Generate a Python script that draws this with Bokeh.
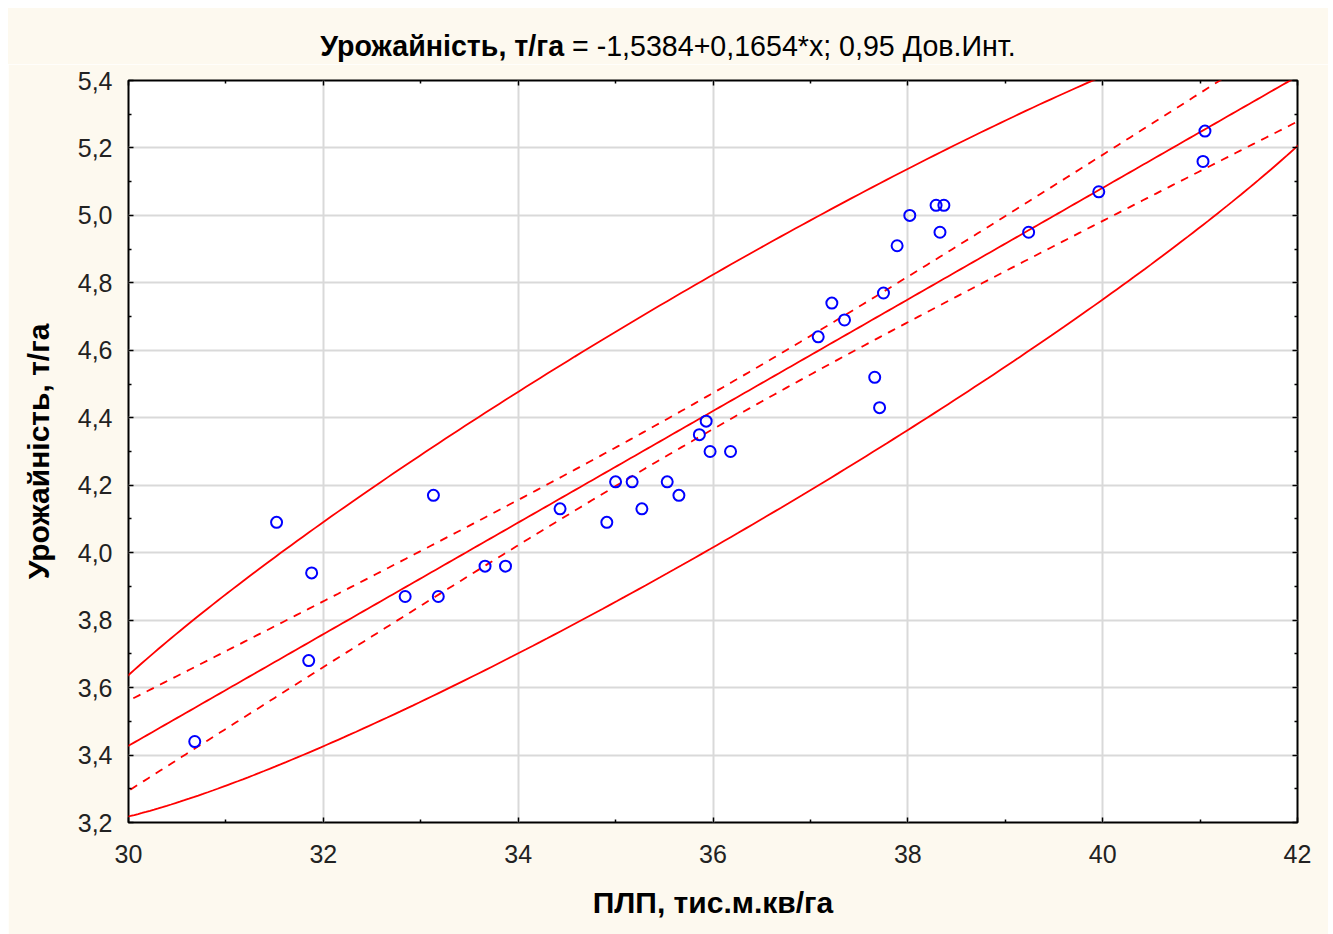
import numpy as np
from bokeh.plotting import figure
from bokeh.models import (LinearAxis, FixedTicker, CustomJSTickFormatter,
                          ColumnDataSource, Range1d, Div)
from bokeh.layouts import column
from bokeh.embed import file_html
from bokeh.resources import INLINE

# ---- data ----
plp = [30.68, 31.52, 31.88, 31.85, 32.84, 33.13, 33.18, 33.66, 33.87, 34.43,
       34.91, 35.00, 35.17, 35.27, 35.53, 35.65, 35.86, 35.93, 35.97, 36.18,
       37.08, 37.22, 37.35, 37.66, 37.71, 37.75, 37.89, 38.02, 38.29, 38.37,
       38.33, 39.24, 39.96, 41.05, 41.03]
yield_t = [3.44, 4.09, 3.94, 3.68, 3.87, 4.17, 3.87, 3.96, 3.96, 4.13,
           4.09, 4.21, 4.21, 4.13, 4.21, 4.17, 4.35, 4.39, 4.30, 4.30,
           4.64, 4.74, 4.69, 4.52, 4.43, 4.77, 4.91, 5.00, 5.03, 5.03,
           4.95, 4.95, 5.07, 5.25, 5.16]

x_ticks = [30, 32, 34, 36, 38, 40, 42]
x_minor = [31, 33, 35, 37, 39, 41]
y_ticks = [3.2, 3.4, 3.6, 3.8, 4.0, 4.2, 4.4, 4.6, 4.8, 5.0, 5.2, 5.4]
y_minor = [3.3, 3.5, 3.7, 3.9, 4.1, 4.3, 4.5, 4.7, 4.9, 5.1, 5.3]

title_bold = "Урожайність, т/га"
title_rest = " = -1,5384+0,1654*x; 0,95 Дов.Инт."
x_label = "ПЛП, тис.м.кв/га"
y_label = "Урожайність, т/га"

conf_level_t = 2.0345      # t(0.975, n-2), n = 35
f_quantile = 3.285         # F(0.95; 2, n-2)

# ---- statistics from the data ----
xa = np.array(plp)
ya = np.array(yield_t)
n = len(xa)
slope, intercept = np.polyfit(xa, ya, 1)
xbar, ybar = xa.mean(), ya.mean()
sxx = ((xa - xbar) ** 2).sum()
resid = ya - (intercept + slope * xa)
s = np.sqrt((resid ** 2).sum() / (n - 2))

xs = np.linspace(29.5, 42.5, 300)
fit = intercept + slope * xs
half = conf_level_t * s * np.sqrt(1.0 / n + (xs - xbar) ** 2 / sxx)

cov = np.cov(np.vstack([xa, ya]))
c = (n + 1) / n * 2 * (n - 1) / (n - 2) * f_quantile
L = np.linalg.cholesky(c * cov)
t = np.linspace(0, 2 * np.pi, 600)
ell = np.array([[xbar], [ybar]]) + L @ np.vstack([np.cos(t), np.sin(t)])

CREAM = "#fdf9ef"
FONT = "Liberation Sans"

title_div = Div(
    text=f"<b>{title_bold}</b>{title_rest}", width=1320, height=56, margin=0,
    styles={"background-color": CREAM, "font-family": FONT, "font-size": "28.6px",
            "color": "black", "text-align": "center", "line-height": "76px",
            "white-space": "nowrap"})

p = figure(width=1320, height=870, x_range=Range1d(30, 42), y_range=Range1d(3.2, 5.4),
           output_backend="svg", toolbar_location=None, margin=0,
           min_border_left=120, min_border_right=31, min_border_top=16, min_border_bottom=112,
           background_fill_color="white", border_fill_color=CREAM,
           outline_line_color="black", outline_line_width=2)

for ax in (p.xaxis[0], p.yaxis[0]):
    ax.axis_line_color = None
    ax.major_tick_in = 5
    ax.major_tick_out = 0
    ax.minor_tick_in = 3
    ax.minor_tick_out = 0
    ax.major_tick_line_color = "black"
    ax.minor_tick_line_color = "black"
    ax.major_tick_line_width = 1.5
    ax.minor_tick_line_width = 1.5
    ax.major_label_text_font = FONT
    ax.major_label_text_font_size = "25px"
    ax.major_label_text_color = "#222222"
    ax.axis_label_text_font = FONT
    ax.axis_label_text_font_size = "30px"
    ax.axis_label_text_font_style = "bold"
    ax.axis_label_text_color = "black"

p.xaxis.ticker = FixedTicker(ticks=x_ticks, minor_ticks=x_minor)
p.yaxis.ticker = FixedTicker(ticks=y_ticks, minor_ticks=y_minor)
p.yaxis.formatter = CustomJSTickFormatter(code="return tick.toFixed(1).replace('.', ',');")
p.xaxis.major_label_standoff = 22
p.yaxis.major_label_standoff = 16
p.xaxis.axis_label = x_label
p.yaxis.axis_label = y_label
p.xaxis.axis_label_standoff = 20
p.yaxis.axis_label_standoff = 20

for loc, tk in (("above", FixedTicker(ticks=x_ticks, minor_ticks=x_minor)),
                ("right", FixedTicker(ticks=y_ticks, minor_ticks=y_minor))):
    ax = LinearAxis(ticker=tk, formatter=CustomJSTickFormatter(code="return '';"),
                    axis_line_color=None, major_tick_in=5, major_tick_out=0,
                    minor_tick_in=3, minor_tick_out=0, major_label_standoff=0,
                    major_label_text_font_size="10px",
                    major_tick_line_color="black", minor_tick_line_color="black",
                    major_tick_line_width=1.5, minor_tick_line_width=1.5)
    p.add_layout(ax, loc)

p.xgrid.grid_line_color = "#d9d9d9"
p.ygrid.grid_line_color = "#d9d9d9"
p.xgrid.grid_line_width = 2
p.ygrid.grid_line_width = 2

RED = "#ff0000"
p.line(xs, fit, line_color=RED, line_width=1.8)
p.line(xs, fit + half, line_color=RED, line_width=1.8, line_dash="8 7")
p.line(xs, fit - half, line_color=RED, line_width=1.8, line_dash="8 7")
p.line(ell[0], ell[1], line_color=RED, line_width=1.8)

src = ColumnDataSource(dict(x=plp, y=yield_t))
p.scatter("x", "y", source=src, marker="circle", size=11, fill_color=None,
          line_color="#0000ff", line_width=2)

layout = column(title_div, p, spacing=0, margin=(8, 0, 0, 8))

open("out.html", "w").write(file_html(layout, INLINE))
